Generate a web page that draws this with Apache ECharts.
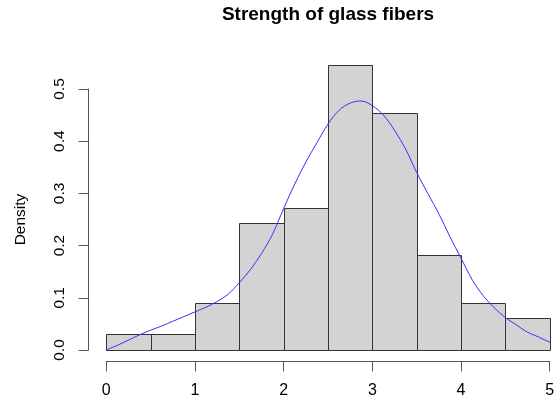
<!DOCTYPE html>
<html>
<head>
<meta charset="utf-8">
<script src="https://cdn.jsdelivr.net/npm/echarts@6/dist/echarts.min.js"></script>
<style>
  html, body { margin: 0; padding: 0; background: #fff; }
  #chart { width: 557px; height: 399px; }
</style>
</head>
<body>
<div id="chart"></div>
<script>
// Histogram bins (breaks every 0.5) and their densities
const binStarts = [0, 0.5, 1, 1.5, 2, 2.5, 3, 3.5, 4, 4.5];
const binEnds   = [0.5, 1, 1.5, 2, 2.5, 3, 3.5, 4, 4.5, 5];
const densities = [0.0303, 0.0303, 0.0909, 0.2424, 0.2727, 0.5455, 0.4545, 0.1818, 0.0909, 0.0606];

// Density curve, sampled every 0.125
const curveX = [0, 0.125, 0.25, 0.375, 0.5, 0.625, 0.75, 0.875, 1, 1.125, 1.25, 1.375,
                1.5, 1.625, 1.75, 1.875, 2, 2.125, 2.25, 2.375, 2.5, 2.625, 2.75, 2.875,
                3, 3.125, 3.25, 3.375, 3.5, 3.625, 3.75, 3.875, 4, 4.125, 4.25, 4.375,
                4.5, 4.625, 4.75, 4.875, 5, 5.125, 5.25];
const curveY = [0, 0.009, 0.019, 0.029, 0.038, 0.046, 0.055, 0.064, 0.073, 0.082, 0.093, 0.107,
                0.129, 0.154, 0.185, 0.222, 0.271, 0.318, 0.360, 0.397, 0.433, 0.459, 0.473, 0.477,
                0.468, 0.450, 0.421, 0.385, 0.340, 0.300, 0.261, 0.217, 0.176, 0.135, 0.104, 0.081,
                0.062, 0.048, 0.034, 0.025, 0.015, 0.010, 0.006];

// Axis ticks
const xTicks = [0, 1, 2, 3, 4, 5];
const yTicks = [0, 0.1, 0.2, 0.3, 0.4, 0.5];

const FONT = '"Liberation Sans", Arial, Helvetica, sans-serif';

const barData = binStarts.map((s, i) => [s, binEnds[i], densities[i]]);
const curveData = curveX.map((x, i) => [x, curveY[i]]);

const chart = echarts.init(document.getElementById('chart'), null, { renderer: 'canvas' });

chart.setOption({
  animation: false,
  backgroundColor: '#ffffff',
  textStyle: { fontFamily: FONT },
  title: {
    text: 'Strength of glass fibers',
    left: 328,
    top: 5,
    textAlign: 'center',
    padding: 0,
    textStyle: { fontFamily: FONT, fontSize: 19, fontWeight: 'bold', color: '#000' }
  },
  grid: {
    left: 106.3,
    right: 7.3,
    top: 89,
    bottom: 49,
    containLabel: false,
    outerBoundsMode: 'none'
  },
  xAxis: {
    type: 'value',
    min: xTicks[0],
    max: xTicks[xTicks.length - 1],
    interval: 1,
    offset: 11.5,
    axisLine: { show: true, onZero: false, lineStyle: { color: '#555', width: 1 } },
    axisTick: { show: true, length: 10, lineStyle: { color: '#555', width: 1 } },
    axisLabel: {
      margin: 21,
      color: '#000',
      fontSize: 16,
      fontFamily: FONT,
      formatter: v => String(v)
    },
    splitLine: { show: false }
  },
  yAxis: {
    type: 'value',
    min: yTicks[0],
    max: yTicks[yTicks.length - 1],
    interval: 0.1,
    offset: 17.7,
    name: 'Density',
    nameLocation: 'middle',
    nameGap: 60,
    nameRotate: 90,
    nameTextStyle: { color: '#000', fontSize: 15.5, fontFamily: FONT },
    axisLine: { show: true, onZero: false, lineStyle: { color: '#555', width: 1 } },
    axisTick: { show: true, length: 10, lineStyle: { color: '#555', width: 1 } },
    axisLabel: {
      rotate: 90,
      margin: 21,
      color: '#000',
      fontSize: 15.5,
      fontFamily: FONT,
      formatter: v => v.toFixed(1)
    },
    splitLine: { show: false }
  },
  series: [
    {
      type: 'custom',
      name: 'Histogram',
      clip: false,
      encode: { x: [0, 1], y: 2 },
      data: barData,
      renderItem: function (params, api) {
        const p0 = api.coord([api.value(0), 0]);
        const p1 = api.coord([api.value(1), api.value(2)]);
        return {
          type: 'rect',
          shape: {
            x: Math.round(p0[0]) + 0.5,
            y: Math.round(p1[1]) + 0.5,
            width: Math.round(p1[0]) - Math.round(p0[0]),
            height: Math.round(p0[1]) - Math.round(p1[1])
          },
          style: { fill: '#d3d3d3', stroke: '#333333', lineWidth: 1 }
        };
      }
    },
    {
      type: 'line',
      name: 'Density',
      data: curveData,
      clip: false,
      smooth: 0.35,
      showSymbol: false,
      symbol: 'none',
      lineStyle: { color: '#3333ff', width: 1 },
      z: 5
    }
  ]
});
</script>
</body>
</html>
